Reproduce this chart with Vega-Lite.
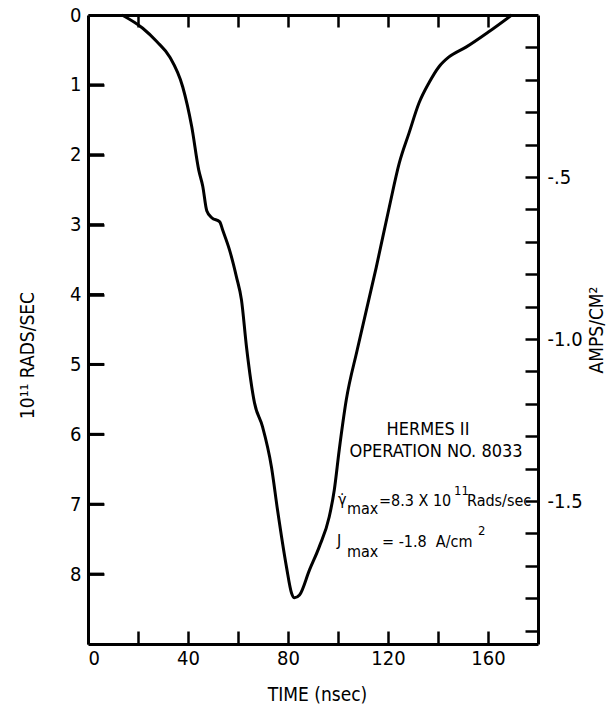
{
  "$schema": "https://vega.github.io/schema/vega-lite/v6.json",
  "width": 450,
  "height": 629,
  "autosize": {"type": "none"},
  "padding": {"left": 88, "top": 15, "right": 73, "bottom": 60},
  "background": "white",
  "config": {
    "font": "Liberation Sans Narrow, DejaVu Sans Condensed, sans-serif",
    "view": {"stroke": null},
    "axis": {
      "grid": false,
      "domainColor": "black",
      "domainWidth": 3,
      "tickColor": "black",
      "tickWidth": 2.5,
      "labelColor": "black",
      "labelFont": "Liberation Sans Narrow, DejaVu Sans Condensed, sans-serif",
      "labelFontSize": 20,
      "labelFontWeight": "normal",
      "titleColor": "black",
      "titleFont": "Liberation Sans Narrow, DejaVu Sans Condensed, sans-serif",
      "titleFontSize": 19,
      "titleFontWeight": "normal"
    },
    "text": {"font": "Liberation Sans Narrow, DejaVu Sans Condensed, sans-serif", "color": "black"}
  },
  "datasets": {
    "curve": [
      {"t": 13.6, "rate": 0},
      {"t": 21.9, "rate": 0.19},
      {"t": 27.5, "rate": 0.38},
      {"t": 32.7, "rate": 0.6},
      {"t": 37.9, "rate": 1.03},
      {"t": 41.5, "rate": 1.6},
      {"t": 44.3, "rate": 2.22},
      {"t": 45.9, "rate": 2.45},
      {"t": 47.5, "rate": 2.8},
      {"t": 49.5, "rate": 2.9},
      {"t": 52.7, "rate": 2.96},
      {"t": 53.9, "rate": 3.08},
      {"t": 56.6, "rate": 3.36},
      {"t": 59.4, "rate": 3.75},
      {"t": 61.4, "rate": 4.08},
      {"t": 63.4, "rate": 4.75},
      {"t": 66.6, "rate": 5.55},
      {"t": 69.8, "rate": 5.89},
      {"t": 73.4, "rate": 6.47},
      {"t": 75.8, "rate": 7.08},
      {"t": 79.4, "rate": 7.9},
      {"t": 81.4, "rate": 8.27},
      {"t": 82.6, "rate": 8.34},
      {"t": 84.6, "rate": 8.3},
      {"t": 88.6, "rate": 7.94},
      {"t": 92.5, "rate": 7.61},
      {"t": 96.5, "rate": 7.18},
      {"t": 98.5, "rate": 6.8},
      {"t": 100.5, "rate": 6.22},
      {"t": 103.3, "rate": 5.51},
      {"t": 107.7, "rate": 4.79},
      {"t": 115.3, "rate": 3.61},
      {"t": 120.5, "rate": 2.75},
      {"t": 124.5, "rate": 2.12},
      {"t": 128.4, "rate": 1.69},
      {"t": 132.4, "rate": 1.26},
      {"t": 136.4, "rate": 0.97},
      {"t": 140.4, "rate": 0.74},
      {"t": 144.4, "rate": 0.6},
      {"t": 151.2, "rate": 0.46},
      {"t": 160.3, "rate": 0.24},
      {"t": 169.5, "rate": 0}
    ],
    "annCenter": [
      {"t": 136, "rate": 6.01, "label": "HERMES II"},
      {"t": 139.2, "rate": 6.32, "label": "OPERATION NO. 8033"}
    ],
    "annLeft": [
      {"t": 100, "rate": 7.01, "label": "γ̇"},
      {"t": 103.6, "rate": 7.14, "label": "max"},
      {"t": 116.4, "rate": 7.02, "label": "=8.3 X 10"},
      {"t": 151.6, "rate": 7.02, "label": "Rads/sec"},
      {"t": 99.6, "rate": 7.6, "label": "J"},
      {"t": 103.6, "rate": 7.75, "label": "max"},
      {"t": 117.6, "rate": 7.61, "label": "= -1.8\u00a0 A/cm"}
    ],
    "annSup": [
      {"t": 146.4, "rate": 6.87, "label": "11"},
      {"t": 156, "rate": 7.44, "label": "2"}
    ],
    "leftTicks": [
      {"rate": 1}, {"rate": 2}, {"rate": 3}, {"rate": 4},
      {"rate": 5}, {"rate": 6}, {"rate": 7}, {"rate": 8}
    ],
    "rightAxis": [
      {"t": 0, "amps": 0},
      {"t": 180, "amps": -1.941}
    ]
  },
  "layer": [
    {
      "data": {"name": "curve"},
      "mark": {"type": "line", "color": "black", "strokeWidth": 3, "interpolate": "monotone"},
      "encoding": {
        "x": {
          "field": "t", "type": "quantitative",
          "scale": {"domain": [0, 180], "nice": false, "zero": false},
          "axis": {
            "orient": "bottom",
            "title": "TIME (nsec)",
            "values": [0, 20, 40, 60, 80, 100, 120, 140, 160],
            "labelExpr": "datum.value % 40 == 0 ? datum.label : ''",
            "tickSize": -13,
            "labelPadding": 17,
            "titleX": 229,
            "titleY": 56,
            "titleBaseline": "alphabetic"
          }
        },
        "y": {
          "field": "rate", "type": "quantitative",
          "scale": {"domain": [0, 9], "reverse": true, "nice": false, "zero": false},
          "axis": {
            "orient": "left",
            "title": "10¹¹ RADS/SEC",
            "values": [0, 1, 2, 3, 4, 5, 6, 7, 8],
            "tickSize": -16,
            "labelPadding": 23,
            "titleX": -51,
            "titleY": 340
          }
        }
      }
    },
    {
      "data": {"name": "leftTicks"},
      "mark": {"type": "rule", "color": "black", "strokeWidth": 3},
      "encoding": {
        "x": {"datum": 0, "type": "quantitative", "scale": {"domain": [0, 180], "nice": false, "zero": false}, "axis": null},
        "x2": {"datum": 6.4},
        "y": {"field": "rate", "type": "quantitative", "scale": {"domain": [0, 9], "reverse": true, "nice": false, "zero": false}, "axis": null}
      }
    },
    {
      "data": {"name": "rightAxis"},
      "mark": {"type": "point", "opacity": 0},
      "encoding": {
        "x": {
          "field": "t", "type": "quantitative",
          "scale": {"domain": [0, 180], "nice": false, "zero": false},
          "axis": {
            "orient": "top",
            "title": null,
            "values": [20, 40, 60, 80, 100, 120, 140, 160],
            "labels": false,
            "tickSize": -12
          }
        },
        "y": {
          "field": "amps", "type": "quantitative",
          "scale": {"domain": [-1.941, 0], "nice": false, "zero": false},
          "axis": {
            "orient": "right",
            "title": "AMPS/CM²",
            "titleAngle": -90,
            "titleBaseline": "top",
            "titleX": 49,
            "values": [-0.1, -0.2, -0.3, -0.4, -0.5, -0.6, -0.7, -0.8, -0.9, -1.0, -1.1, -1.2, -1.3, -1.4, -1.5, -1.6, -1.7, -1.8, -1.9],
            "labelExpr": "abs(datum.value + 0.5) < 0.01 ? '-.5' : abs(datum.value + 1) < 0.01 ? '-1.0' : abs(datum.value + 1.5) < 0.01 ? '-1.5' : ''",
            "tickSize": -13,
            "labelPadding": 22
          }
        }
      }
    },
    {
      "data": {"name": "annCenter"},
      "mark": {"type": "text", "align": "center", "baseline": "alphabetic", "fontSize": 18},
      "encoding": {
        "x": {"field": "t", "type": "quantitative", "scale": {"domain": [0, 180], "nice": false, "zero": false}, "axis": null},
        "y": {"field": "rate", "type": "quantitative", "scale": {"domain": [0, 9], "reverse": true, "nice": false, "zero": false}, "axis": null},
        "text": {"field": "label"}
      }
    },
    {
      "data": {"name": "annLeft"},
      "mark": {"type": "text", "align": "left", "baseline": "alphabetic", "fontSize": 16},
      "encoding": {
        "x": {"field": "t", "type": "quantitative", "scale": {"domain": [0, 180], "nice": false, "zero": false}, "axis": null},
        "y": {"field": "rate", "type": "quantitative", "scale": {"domain": [0, 9], "reverse": true, "nice": false, "zero": false}, "axis": null},
        "text": {"field": "label"}
      }
    },
    {
      "data": {"name": "annSup"},
      "mark": {"type": "text", "align": "left", "baseline": "alphabetic", "fontSize": 13},
      "encoding": {
        "x": {"field": "t", "type": "quantitative", "scale": {"domain": [0, 180], "nice": false, "zero": false}, "axis": null},
        "y": {"field": "rate", "type": "quantitative", "scale": {"domain": [0, 9], "reverse": true, "nice": false, "zero": false}, "axis": null},
        "text": {"field": "label"}
      }
    }
  ],
  "resolve": {"scale": {"y": "independent"}, "axis": {"x": "independent"}}
}
